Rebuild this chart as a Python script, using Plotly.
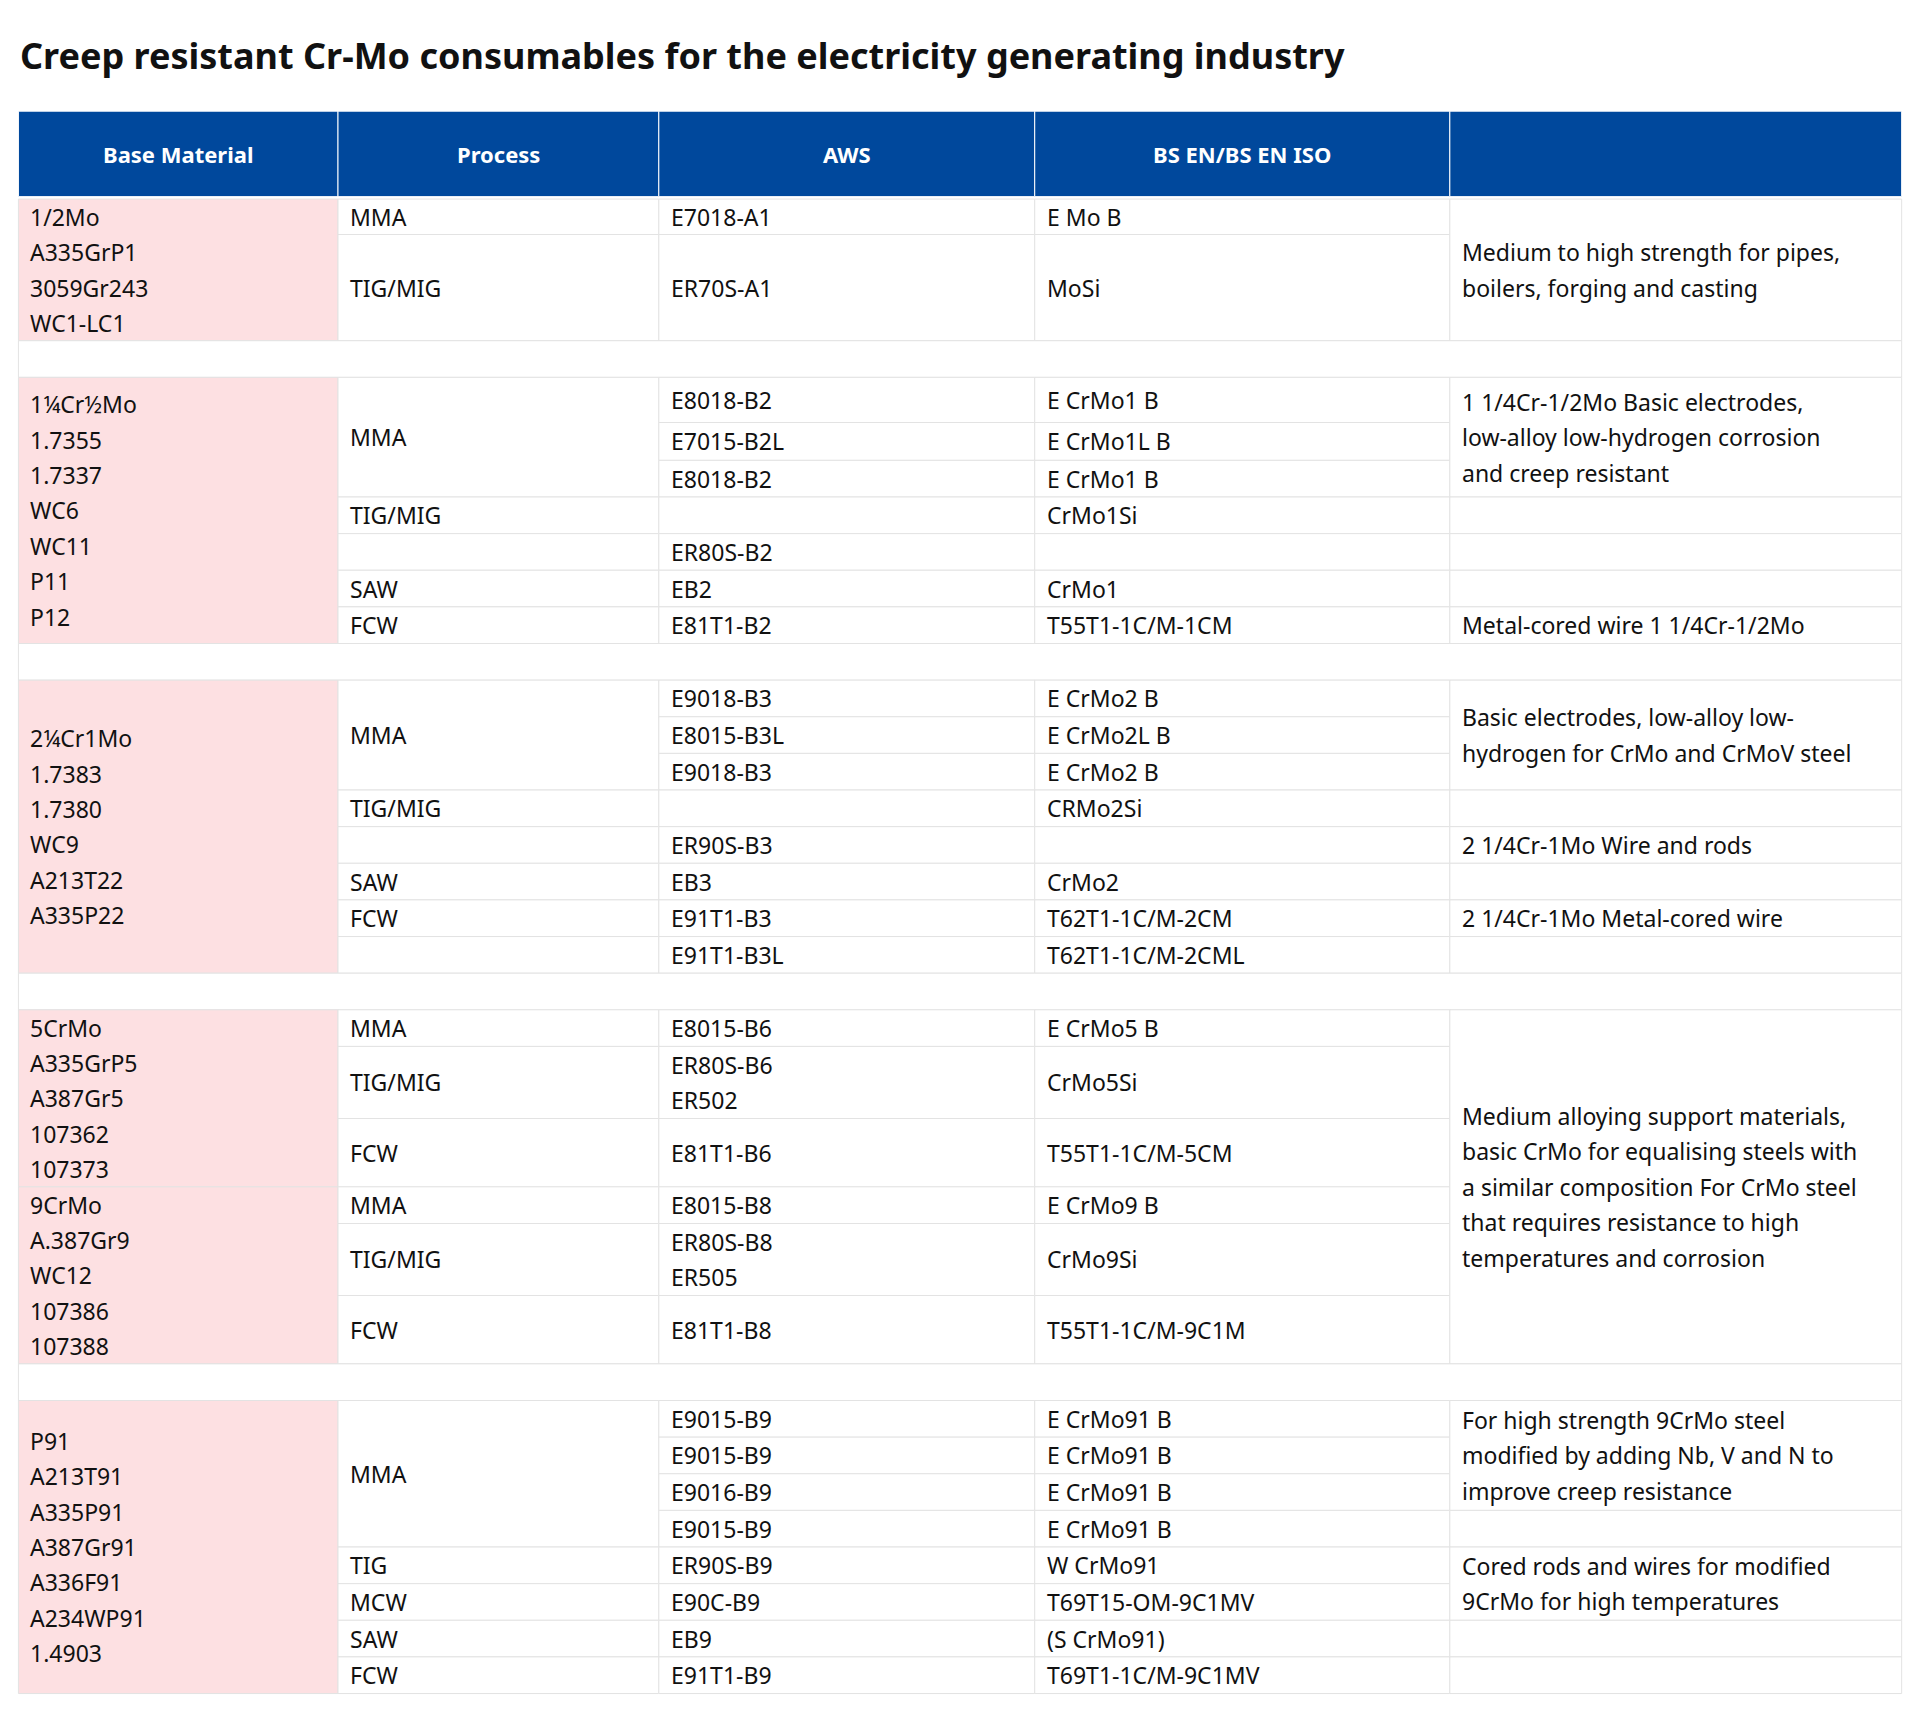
import plotly.graph_objects as go

TITLE = "Creep resistant Cr-Mo consumables for the electricity generating industry"
HEADERS = ["Base Material", "Process", "AWS", "BS EN/BS EN ISO", ""]

# each group: row heights, and cells as (text, first_row, span)
g1_heights = [29, 87]
g1_base = [("1/2Mo\nA335GrP1\n3059Gr243\nWC1-LC1", 0, 2)]
g1_process = [("MMA", 0, 1), ("TIG/MIG", 1, 1)]
g1_aws = ["E7018-A1", "ER70S-A1"]
g1_bs = ["E Mo B", "MoSi"]
g1_desc = [("Medium to high strength for pipes,\nboilers, forging and casting", 0, 2)]

g2_heights = [37, 31, 30, 30, 30, 30, 30]
g2_base = [("1¼Cr½Mo\n1.7355\n1.7337\nWC6\nWC11\nP11\nP12", 0, 7)]
g2_process = [("MMA", 0, 3), ("TIG/MIG", 3, 1), ("", 4, 1), ("SAW", 5, 1), ("FCW", 6, 1)]
g2_aws = ["E8018-B2", "E7015-B2L", "E8018-B2", "", "ER80S-B2", "EB2", "E81T1-B2"]
g2_bs = ["E CrMo1 B", "E CrMo1L B", "E CrMo1 B", "CrMo1Si", "", "CrMo1", "T55T1-1C/M-1CM"]
g2_desc = [("1 1/4Cr-1/2Mo Basic electrodes,\nlow-alloy low-hydrogen corrosion\nand creep resistant", 0, 3),
           ("", 3, 1), ("", 4, 1), ("", 5, 1), ("Metal-cored wire 1 1/4Cr-1/2Mo", 6, 1)]

g3_heights = [30] * 8
g3_base = [("2¼Cr1Mo\n1.7383\n1.7380\nWC9\nA213T22\nA335P22", 0, 8)]
g3_process = [("MMA", 0, 3), ("TIG/MIG", 3, 1), ("", 4, 1), ("SAW", 5, 1), ("FCW", 6, 1), ("", 7, 1)]
g3_aws = ["E9018-B3", "E8015-B3L", "E9018-B3", "", "ER90S-B3", "EB3", "E91T1-B3", "E91T1-B3L"]
g3_bs = ["E CrMo2 B", "E CrMo2L B", "E CrMo2 B", "CRMo2Si", "", "CrMo2", "T62T1-1C/M-2CM", "T62T1-1C/M-2CML"]
g3_desc = [("Basic electrodes, low-alloy low-\nhydrogen for CrMo and CrMoV steel", 0, 3), ("", 3, 1),
           ("2 1/4Cr-1Mo Wire and rods", 4, 1), ("", 5, 1), ("2 1/4Cr-1Mo Metal-cored wire", 6, 1), ("", 7, 1)]

g4_heights = [30, 59, 56, 30, 59, 56]
g4_base = [("5CrMo\nA335GrP5\nA387Gr5\n107362\n107373", 0, 3), ("9CrMo\nA.387Gr9\nWC12\n107386\n107388", 3, 3)]
g4_process = [("MMA", 0, 1), ("TIG/MIG", 1, 1), ("FCW", 2, 1), ("MMA", 3, 1), ("TIG/MIG", 4, 1), ("FCW", 5, 1)]
g4_aws = ["E8015-B6", "ER80S-B6\nER502", "E81T1-B6", "E8015-B8", "ER80S-B8\nER505", "E81T1-B8"]
g4_bs = ["E CrMo5 B", "CrMo5Si", "T55T1-1C/M-5CM", "E CrMo9 B", "CrMo9Si", "T55T1-1C/M-9C1M"]
g4_desc = [("Medium alloying support materials,\nbasic CrMo for equalising steels with\na similar composition For CrMo steel\n"
            "that requires resistance to high\ntemperatures and corrosion", 0, 6)]

g5_heights = [30] * 8
g5_base = [("P91\nA213T91\nA335P91\nA387Gr91\nA336F91\nA234WP91\n1.4903", 0, 8)]
g5_process = [("MMA", 0, 4), ("TIG", 4, 1), ("MCW", 5, 1), ("SAW", 6, 1), ("FCW", 7, 1)]
g5_aws = ["E9015-B9", "E9015-B9", "E9016-B9", "E9015-B9", "ER90S-B9", "E90C-B9", "EB9", "E91T1-B9"]
g5_bs = ["E CrMo91 B", "E CrMo91 B", "E CrMo91 B", "E CrMo91 B", "W CrMo91", "T69T15-OM-9C1MV", "(S CrMo91)", "T69T1-1C/M-9C1MV"]
g5_desc = [("For high strength 9CrMo steel\nmodified by adding Nb, V and N to\nimprove creep resistance", 0, 3), ("", 3, 1),
           ("Cored rods and wires for modified\n9CrMo for high temperatures", 4, 2), ("", 6, 1), ("", 7, 1)]

groups = [
    (g1_heights, g1_base, g1_process, g1_aws, g1_bs, g1_desc),
    (g2_heights, g2_base, g2_process, g2_aws, g2_bs, g2_desc),
    (g3_heights, g3_base, g3_process, g3_aws, g3_bs, g3_desc),
    (g4_heights, g4_base, g4_process, g4_aws, g4_bs, g4_desc),
    (g5_heights, g5_base, g5_process, g5_aws, g5_bs, g5_desc),
]

# layout in reference units (scaled by axis range to 1920x1724)
W, H = 1568, 1412
OFF = 6.5  # page body margin compensation
COL_X = [15, 276, 538, 845, 1184, 1553]
HEADER_TOP, HEADER_H, SPACER = 91, 70, 30
LINE = 29
PAD = 8
BLUE = "#00489c"
PINK = "#fde0e2"
GRID = "#e3e3e3"
FONT = "Noto Sans"

shapes = []
annotations = []


def cell(col, y0, y1, text, fill="white", line=GRID, color="#111", center=False, size=23, bold=False):
    shapes.append(dict(type="rect", xref="x", yref="y", x0=COL_X[col], x1=COL_X[col + 1], y0=y0, y1=y1,
                       fillcolor=fill, line=dict(color=line, width=1), layer="below"))
    lines = text.split("\n") if text else []
    mid = (y0 + y1) / 2
    for i, t in enumerate(lines):
        y = mid + (i - (len(lines) - 1) / 2) * LINE
        annotations.append(dict(
            x=(COL_X[col] + COL_X[col + 1]) / 2 if center else COL_X[col] + PAD, y=y, xref="x", yref="y",
            text="<b>" + t + "</b>" if bold else t, showarrow=False,
            xanchor="center" if center else "left", yanchor="middle",
            font=dict(family=FONT, size=size, color=color)))


for c, h in enumerate(HEADERS):
    cell(c, HEADER_TOP, HEADER_TOP + HEADER_H, h, fill=BLUE, line="white", color="white",
         center=True, size=22, bold=True)

y = HEADER_TOP + HEADER_H + 2
for gi, (heights, base, process, aws, bs, desc) in enumerate(groups):
    tops = [y]
    for hh in heights:
        tops.append(tops[-1] + hh)
    for text, r, n in base:
        cell(0, tops[r], tops[r + n], text, fill=PINK)
    for text, r, n in process:
        cell(1, tops[r], tops[r + n], text)
    for r, text in enumerate(aws):
        cell(2, tops[r], tops[r + 1], text)
    for r, text in enumerate(bs):
        cell(3, tops[r], tops[r + 1], text)
    for text, r, n in desc:
        cell(4, tops[r], tops[r + n], text)
    y = tops[-1]
    if gi < len(groups) - 1:
        shapes.append(dict(type="rect", xref="x", yref="y", x0=COL_X[0], x1=COL_X[-1], y0=y, y1=y + SPACER,
                           fillcolor="white", line=dict(color=GRID, width=1), layer="below"))
        y += SPACER

annotations.append(dict(x=COL_X[0], y=45, xref="x", yref="y", text="<b>" + TITLE + "</b>", showarrow=False,
                        xanchor="left", yanchor="middle", font=dict(family=FONT, size=36, color="#111")))

fig = go.Figure()
fig.update_layout(
    width=1920, height=1724, margin=dict(l=0, r=0, t=0, b=0),
    paper_bgcolor="white", plot_bgcolor="white",
    xaxis=dict(range=[OFF, W + OFF], visible=False, fixedrange=True),
    yaxis=dict(range=[H + OFF, OFF], visible=False, fixedrange=True),
    shapes=shapes, annotations=annotations, showlegend=False,
)
fig.write_html("out.html")
